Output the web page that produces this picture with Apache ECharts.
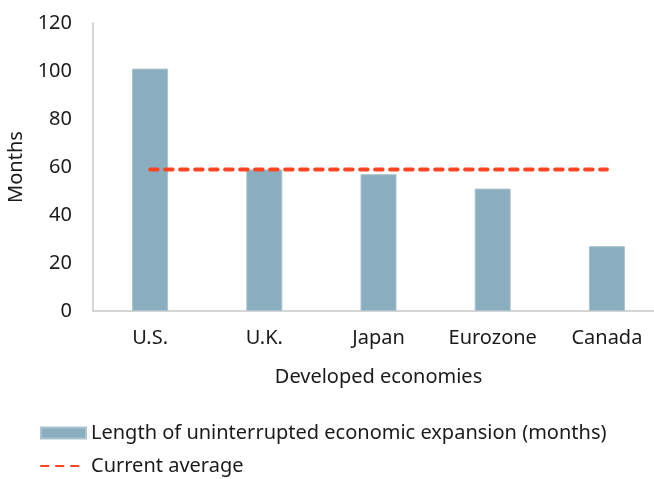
<!DOCTYPE html>
<html>
<head>
<meta charset="utf-8">
<script src="https://cdn.jsdelivr.net/npm/echarts@6/dist/echarts.min.js"></script>
<style>
  html, body { margin: 0; padding: 0; background: #fff; }
  #chart { width: 654px; height: 479px; }
</style>
</head>
<body>
<div id="chart"></div>
<script>
var economies = ['U.S.', 'U.K.', 'Japan', 'Eurozone', 'Canada'];
var expansionMonths = [101, 59, 57, 51, 27];
var currentAverage = [59, 59, 59, 59, 59];

var chart = echarts.init(document.getElementById('chart'));
var font = 'Noto Sans';
var ink = '#1a1a1a';

var option = {
    animation: false,
    textStyle: { fontFamily: font },
    grid: {
        left: 93,
        top: 23,
        width: 571,
        bottom: 168,
        outerBoundsMode: 'none'
    },
    legend: {
        orient: 'vertical',
        left: 40,
        top: 423,
        padding: 0,
        itemWidth: 45,
        itemHeight: 11,
        itemGap: 13,
        textStyle: { fontFamily: font, fontSize: 20, color: ink },
        data: [
            { name: 'Length of uninterrupted economic expansion (months)', icon: 'rect' },
            { name: 'Current average', itemStyle: { opacity: 0 } }
        ]
    },
    xAxis: {
        type: 'category',
        data: economies,
        name: 'Developed economies',
        nameLocation: 'middle',
        nameGap: 56,
        nameTextStyle: { fontFamily: font, fontSize: 20, color: ink },
        axisLine: { lineStyle: { color: '#c8c8c8', width: 1.5 } },
        axisTick: { show: false },
        axisLabel: { fontFamily: font, fontSize: 20, color: ink, margin: 17, interval: 0 }
    },
    yAxis: {
        type: 'value',
        min: 0,
        max: 120,
        interval: 20,
        name: 'Months',
        nameLocation: 'middle',
        nameRotate: 90,
        nameGap: 57,
        nameTextStyle: { fontFamily: font, fontSize: 20, color: ink },
        axisLine: { show: true, lineStyle: { color: '#c8c8c8', width: 1.5 } },
        axisTick: { show: false },
        splitLine: { show: false },
        axisLabel: { fontFamily: font, fontSize: 20, color: ink, margin: 21 }
    },
    series: [
        {
            name: 'Length of uninterrupted economic expansion (months)',
            type: 'bar',
            data: expansionMonths,
            barWidth: 36,
            itemStyle: { color: '#8aaebf', borderColor: '#a9c3cf', borderWidth: 1 }
        },
        {
            name: 'Current average',
            type: 'line',
            data: currentAverage,
            symbol: 'none',
            lineStyle: { color: '#ff4422', width: 4, type: [7.5, 7.5], cap: 'round' },
            itemStyle: { color: '#ff4422' }
        }
    ]
};

chart.setOption(option);

window.onresize = function () {
    chart.resize();
};
</script>
</body>
</html>
